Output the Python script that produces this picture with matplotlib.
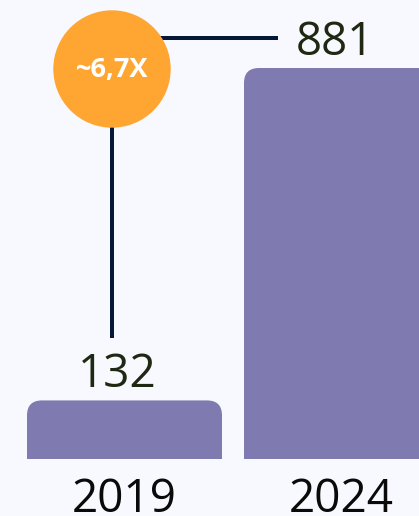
import matplotlib
matplotlib.use("Agg")
import matplotlib.pyplot as plt
from matplotlib.patches import FancyBboxPatch

categories = ["2019", "2024"]
values = [132, 881]
multiplier_label = "~6,7X"

BG = "#f8f9fe"
BAR = "#7f7bb0"
ORANGE = "#ffa531"
NAVY = "#061838"
VAL_COLOR = "#1e2812"

W, H, DPI = 419, 516, 100
fig = plt.figure(figsize=(W / DPI, H / DPI), dpi=DPI)
fig.patch.set_facecolor(BG)

base_px = 459  # baseline from top
ax = fig.add_axes([0, (H - base_px) / H, 1, base_px / H])
ax.set_facecolor(BG)
px_per_unit_y = 391 / 881.0
px_per_cat = 217.0
c0 = 124.5
ax.set_xlim(-c0 / px_per_cat, 1 + (W - (c0 + px_per_cat)) / px_per_cat)
ax.set_ylim(0, base_px / px_per_unit_y)
ax.axis("off")

bar_w = 195 / px_per_cat
r_px = 15
r_x = r_px / px_per_cat
aspect = (1 / px_per_unit_y) / (1 / px_per_cat)

font = "Open Sans"
for i, (cat, v) in enumerate(zip(categories, values)):
    p = FancyBboxPatch((i - bar_w / 2, -100), bar_w, v + 100,
                       boxstyle=f"round,pad=0,rounding_size={r_x}",
                       mutation_aspect=aspect, facecolor=BAR, edgecolor="none",
                       zorder=2, clip_on=True)
    ax.add_patch(p)
    ax.annotate(f"{v}", xy=(i, v), xytext=(-5, 9.4), textcoords="offset points",
                ha="center", va="baseline", fontsize=33, color=VAL_COLOR,
                family=font, zorder=5)
    ax.annotate(cat, xy=(i, 0), xytext=(0, -38.5), textcoords="offset points",
                ha="center", va="baseline", fontsize=33, color="#0a0a0a",
                family=font, annotation_clip=False)

# connector annotation
cx = (112 - c0) / px_per_cat
cy = (base_px - 69) / px_per_unit_y
hy = (base_px - 38) / px_per_unit_y
hx_end = (278 - c0) / px_per_cat
vy_end = (base_px - 338) / px_per_unit_y
lw = 4 * 72 / DPI
ax.plot([cx, cx], [cy, vy_end], color=NAVY, lw=lw, solid_capstyle="butt", zorder=3)
ax.plot([cx, hx_end], [hy, hy], color=NAVY, lw=lw, solid_capstyle="butt", zorder=3)
diam_pt = 2 * 58.7 * 72 / DPI
ax.scatter([cx], [cy], s=diam_pt ** 2, color=ORANGE, edgecolors="none", zorder=4, clip_on=False)
ax.annotate(multiplier_label, xy=(cx, cy), xytext=(0, -1), textcoords="offset points",
            ha="center", va="center", fontsize=19.5,
            fontweight="bold", color="white", family=font, zorder=6)

fig.savefig("out.png", dpi=DPI, facecolor=BG)
